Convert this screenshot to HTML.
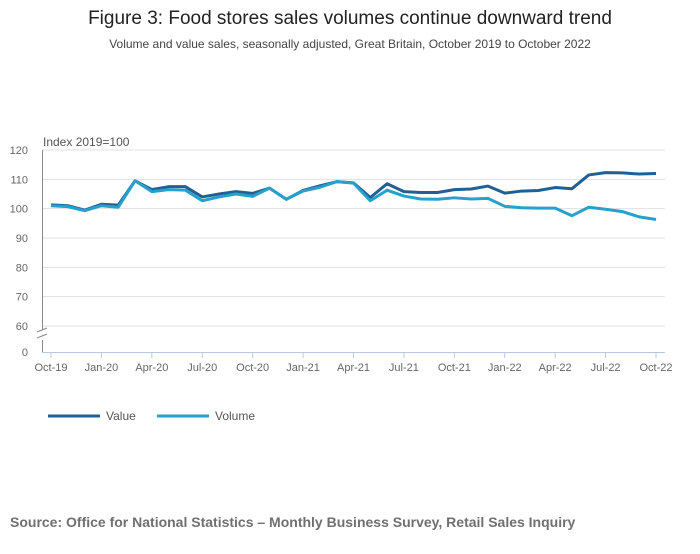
<!DOCTYPE html>
<html><head><meta charset="utf-8"><style>
body{margin:0;background:#fff;font-family:"Liberation Sans",sans-serif;}
svg text{font-family:"Liberation Sans",sans-serif;}
</style></head><body>
<svg id="chart" width="700" height="549">
<text x="350" y="24" text-anchor="middle" font-size="19" fill="#222">Figure 3: Food stores sales volumes continue downward trend</text>
<text x="350" y="48" text-anchor="middle" font-size="12" fill="#444">Volume and value sales, seasonally adjusted, Great Britain, October 2019 to October 2022</text>
<text x="43" y="146" font-size="12" fill="#555">Index 2019=100</text>
<g id="grid"></g><g id="axes"></g><g id="series"></g>
<g>
<line x1="48" y1="416" x2="100" y2="416" stroke="#206095" stroke-width="3"/>
<text x="106" y="420" font-size="12" fill="#555">Value</text>
<line x1="157" y1="416" x2="209" y2="416" stroke="#27a0cc" stroke-width="3"/>
<text x="215" y="420" font-size="12" fill="#555">Volume</text>
</g>
<text x="10" y="527" font-size="14" font-weight="bold" fill="#707070">Source: Office for National Statistics – Monthly Business Survey, Retail Sales Inquiry</text>
</svg>
<script>
const xLabels=["Oct-19","Jan-20","Apr-20","Jul-20","Oct-20","Jan-21","Apr-21","Jul-21","Oct-21","Jan-22","Apr-22","Jul-22","Oct-22"];
const yTicks=[0,60,70,80,90,100,110,120];
const valueSeries=[101.3,101,99.5,101.5,101.2,109.5,106.5,107.5,107.5,104,105,105.8,105.2,107,103.2,106.2,107.8,109.2,108.8,103.8,108.5,105.8,105.5,105.5,106.5,106.7,107.7,105.3,106,106.2,107.2,106.8,111.5,112.3,112.2,111.8,112];
const volumeSeries=[101,100.7,99.3,101,100.5,109.5,105.8,106.5,106.3,102.7,104,105,104.2,107,103.2,106,107.3,109.2,108.7,102.7,106.3,104.3,103.3,103.2,103.7,103.3,103.5,100.8,100.3,100.2,100.2,97.6,100.5,99.8,99,97.2,96.3];
const NS="http://www.w3.org/2000/svg";
const x0=51,x1=656,n=valueSeries.length;
function xs(i){return x0+(x1-x0)*i/(n-1);}
function ys(v){return v>=60?326-(v-60)*(326-150)/60:352-v*(352-326)/60*0+ (v<=0?0:-(26*v/60));}
function mk(t,a,p){const e=document.createElementNS(NS,t);for(const k in a)e.setAttribute(k,a[k]);p.appendChild(e);return e;}
const grid=document.getElementById('grid'),axes=document.getElementById('axes'),ser=document.getElementById('series');
yTicks.forEach(v=>{
 const y=ys(v);
 if(v>=60){const l=mk('line',{x1:42,x2:665,y1:y,y2:y,stroke:'#e0e0e0','stroke-width':1},grid);
 
 }
 const t=mk('text',{x:28,y:y+4,'text-anchor':'end','font-size':11,fill:'#666'},axes);t.textContent=v;
 
 
});
const ya=mk('path',{d:'M42.5 150 V330 M42.5 340 V352',stroke:'#888',fill:'none'},axes);


const br=mk('path',{d:'M37 332 L47 328 M37 338 L47 334',stroke:'#888',fill:'none'},axes);


const xa=mk('line',{x1:42,x2:665,y1:352.5,y2:352.5,stroke:'#b8c8e0'},axes);


xLabels.forEach((lab,k)=>{
 const x=xs(k*3);
 mk('line',{x1:x,x2:x,y1:352,y2:358,stroke:'#b8c8e0'},axes);
 const t=mk('text',{x:x,y:371,'text-anchor':'middle','font-size':11,fill:'#666'},axes);t.textContent=lab;
 
 
});
function line(d,c,name){
 const p=mk('polyline',{points:d.map((v,i)=>xs(i)+','+ys(v)).join(' '),fill:'none',stroke:c,'stroke-width':3,'stroke-linejoin':'round'},ser);
 
 
}
line(valueSeries,'#206095','value-line');
line(volumeSeries,'#27a0cc','volume-line');
</script>
</body></html>
